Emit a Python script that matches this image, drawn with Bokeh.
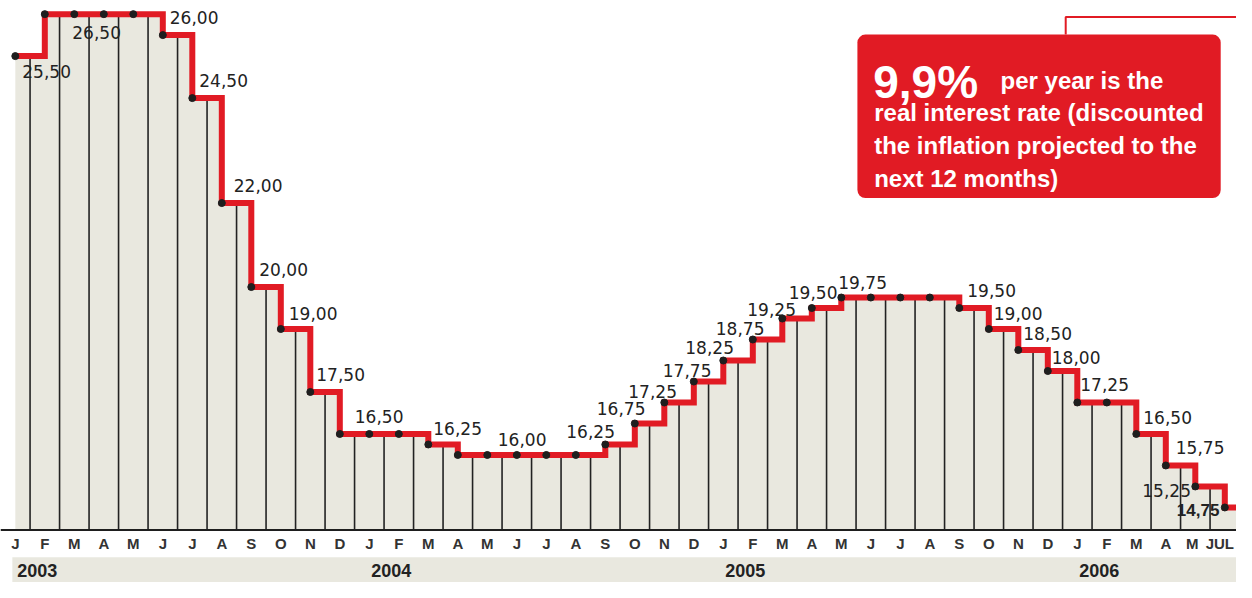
from bokeh.plotting import figure
from bokeh.models import ColumnDataSource, Range1d, BoxAnnotation, Label, Span
from bokeh.core.properties import value
from bokeh.embed import file_html
from bokeh.resources import INLINE

# ---------------- data ----------------
months = ["J", "F", "M", "A", "M", "J", "J", "A", "S", "O", "N", "D",
          "J", "F", "M", "A", "M", "J", "J", "A", "S", "O", "N", "D",
          "J", "F", "M", "A", "M", "J", "J", "A", "S", "O", "N", "D",
          "J", "F", "M", "A", "M", "JUL"]
years = ["2003", "2004", "2005", "2006"]
year_first_month = [0, 12, 24, 36]
rates = [25.50, 26.50, 26.50, 26.50, 26.50, 26.00, 24.50, 22.00, 20.00, 19.00, 17.50, 16.50,
         16.50, 16.50, 16.25, 16.00, 16.00, 16.00, 16.00, 16.00, 16.25, 16.75, 17.25, 17.75,
         18.25, 18.75, 19.25, 19.50, 19.75, 19.75, 19.75, 19.75, 19.50, 19.00, 18.50, 18.00,
         17.25, 17.25, 16.50, 15.75, 15.25, 14.75]
labelled = [0, 2, 5, 6, 7, 8, 9, 10, 11, 14, 17, 20, 21, 22, 23, 24, 25, 26, 27, 28,
            32, 33, 34, 35, 36, 38, 39, 40]
last_label = 41
note_big = "9,9%"
note_lines = ["per year is the", "real interest rate (discounted",
              "the inflation projected to the", "next 12 months)"]

# ---------------- layout / style ----------------
label_dx = [7, -2, 7, 7, 12, 8, 8, 6, 15, 5, -19, -39, -38, -36, -31, -38, -37, -35, -23, -3,
            8, 5, 5, 4, 3, 7, 10, -53]
label_dy = [15, 18, -18, -18, -18, -18, -16, -17, -17, -16, -15, -13, -15, -11, -11, -13, -11, -9, -16, -15,
            -18, -16, -17, -14, -18, -16, -18, 4]

W, H = 1236, 582
SX, SY = W / 1252, H / 598   # reference px -> figure px
SP = 29.5                    # figure px per month
K = 43.14 * SY               # figure px per percentage point
X0 = 15 * SX                 # figure px of first month
Y_TOP = 26.5 + 14 * SY / K   # value at top edge

def xv(ref_x):
    return (ref_x * SX - X0) / SP

def yv(ref_y):
    return Y_TOP - ref_y * SY / K

RED = "#e11b24"
BEIGE = "#e9e8df"
DARK = "#1e1e1e"
AXIS_Y = yv(544)

idx = list(range(len(rates)))

p = figure(width=W, height=H,
           x_range=Range1d(xv(0), xv(1252)), y_range=Range1d(yv(598), yv(0)),
           x_axis_type=None, y_axis_type=None,
           output_backend="svg", toolbar_location=None, min_border=0,
           background_fill_color="white", border_fill_color="white",
           outline_line_color=None)
p.grid.visible = False

# year band
p.add_layout(BoxAnnotation(left=xv(12), bottom=yv(598) - 1, top=yv(572),
                           fill_color=BEIGE, fill_alpha=1, line_color=None, level="underlay"))

# area under the step
x_ext = idx + [idx[-1] + 1]
r_ext = rates + [rates[-1]]
p.varea_step(x=x_ext, y1=[AXIS_Y] * len(x_ext), y2=r_ext, step_mode="after",
             fill_color=BEIGE, fill_alpha=1)

# vertical month separators
p.segment(x0=[i + 0.5 for i in idx[:-1]], y0=[AXIS_Y] * (len(idx) - 1),
          x1=[i + 0.5 for i in idx[:-1]], y1=rates[:-1],
          line_color="#222222", line_width=1.6)

# axis line
p.add_layout(Span(location=AXIS_Y, dimension="width", line_color=DARK, line_width=2))

# step line and dots
p.step(x=x_ext, y=r_ext, mode="after", line_color=RED, line_width=6, line_join="miter")
p.scatter(x=idx, y=rates, size=7, color=DARK)

# value labels
fmt = lambda v: f"{v:.2f}".replace(".", ",")
lab_src = ColumnDataSource(dict(
    x=labelled, y=[rates[i] for i in labelled], text=[fmt(rates[i]) for i in labelled],
    dx=label_dx, dy=label_dy))
p.text(x="x", y="y", text="text", x_offset="dx", y_offset="dy", source=lab_src,
       text_font=value("DejaVu Sans"), text_font_size="17px", text_color="#222222",
       text_align="left", text_baseline="middle")
p.text(x=[last_label], y=[rates[last_label]], text=[fmt(rates[last_label])],
       x_offset=-48, y_offset=3,
       text_font=value("Liberation Sans"), text_font_size="17px", text_font_style="bold",
       text_color="#222222", text_align="left", text_baseline="middle")

# month labels
month_dx = [0] * (len(months) - 2) + [-3, -5]
p.text(x=idx, y=[yv(558)] * len(idx), text=months, x_offset=month_dx,
       text_font=value("Liberation Sans"), text_font_size="15px", text_font_style="bold",
       text_color="#333333", text_align="center", text_baseline="middle")

# year labels
p.text(x=year_first_month, y=[yv(586)] * len(years), text=years, x_offset=2,
       text_font=value("Liberation Sans"), text_font_size="18px", text_font_style="bold",
       text_color="#222222", text_align="left", text_baseline="middle")

# callout
p.line(x=[xv(1079), xv(1079), xv(1252)], y=[yv(35), yv(17), yv(17)],
       line_color=RED, line_width=2)
p.add_layout(BoxAnnotation(left=xv(868), right=xv(1236), top=yv(35), bottom=yv(203),
                           fill_color=RED, fill_alpha=1, line_color=None, border_radius=8))
p.add_layout(Label(x=xv(884), y=yv(84), text=note_big, text_font="Liberation Sans",
                   text_font_size="46px", text_font_style="bold", text_color="white",
                   text_baseline="alphabetic"))
note_x = [1013, 885, 885, 885]
note_y = [82, 115, 149, 183]
for t, nx, ny in zip(note_lines, note_x, note_y):
    p.add_layout(Label(x=xv(nx), y=yv(ny), text=t, text_font="Liberation Sans",
                       text_font_size="24px", text_font_style="bold", text_color="white",
                       text_baseline="alphabetic"))

open("out.html", "w").write(file_html(p, INLINE))
